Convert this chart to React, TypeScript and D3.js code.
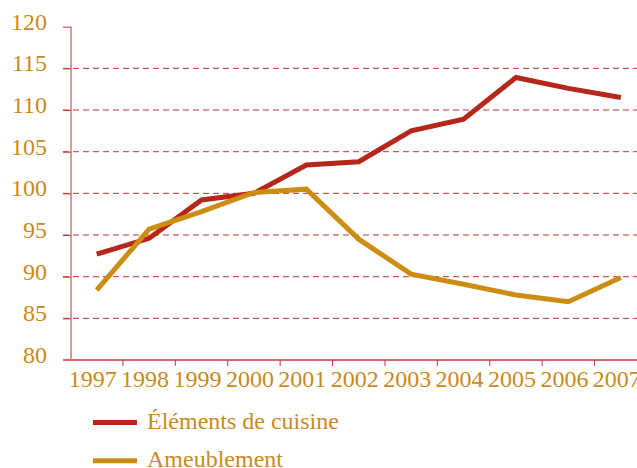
import React, { useRef, useEffect } from "react";
import * as d3 from "d3";

const years = ["1997", "1998", "1999", "2000", "2001", "2002", "2003", "2004", "2005", "2006", "2007"];
const cuisine = [92.7, 94.6, 99.2, 100.0, 103.4, 103.8, 107.5, 108.9, 113.9, 112.6, 111.5];
const ameublement = [88.4, 95.7, 97.8, 100.1, 100.5, 94.5, 90.3, 89.1, 87.8, 87.0, 89.9];
const yTicks = [80, 85, 90, 95, 100, 105, 110, 115, 120];
const seriesNames = ["Éléments de cuisine", "Ameublement"];

const RED = "#b5261b";
const GOLD = "#cd8c12";
const TEXT = "#c98a1c";
const GRID = "#c0352c";

const App = () => {
  const ref = useRef(null);
  const w = 637,
    h = 468;

  useEffect(() => {
    const svg = d3.select(ref.current);
    svg.selectAll("*").remove();
    const font = "Liberation Serif, Times New Roman, Times, DejaVu Serif, serif";

    const x = d3.scaleBand().domain(years).range([70.5, 647]).padding(0);
    const y = d3.scaleLinear().domain([80, 120]).range([360, 26.7]);

    // gridlines
    svg
      .append("g")
      .selectAll("line")
      .data(yTicks.filter((d) => d > 80 && d < 120))
      .join("line")
      .attr("x1", 63)
      .attr("x2", w)
      .attr("y1", (d) => y(d))
      .attr("y2", (d) => y(d))
      .attr("stroke", GRID)
      .attr("stroke-width", 1)
      .attr("stroke-dasharray", "6,4");

    // y axis
    const yAxis = (g) =>
      g
        .attr("transform", "translate(71,0)")
        .call(d3.axisLeft(y).tickValues(yTicks).tickSize(8).tickPadding(16))
        .call((g) => g.select(".domain").attr("stroke", GRID).attr("d", `M0,${y(120)}V${y(80)}`))
        .call((g) => g.selectAll(".tick line").attr("stroke", GRID))
        .call((g) =>
          g
            .selectAll(".tick text")
            .attr("fill", TEXT)
            .attr("font-family", font)
            .attr("font-size", 24)
            .attr("dy", "0.1em")
        );
    svg.append("g").call(yAxis);

    // x axis
    const xAxis = (g) =>
      g
        .attr("transform", `translate(0,${y(80)})`)
        .call(d3.axisBottom(x).tickSize(0).tickPadding(10))
        .call((g) => g.select(".domain").remove())
        .call((g) =>
          g
            .selectAll(".tick text")
            .attr("fill", TEXT)
            .attr("font-family", font)
            .attr("font-size", 24)
            .attr("dx", -4)
        );
    const xg = svg.append("g").call(xAxis);
    xg.append("line")
      .attr("x1", 63)
      .attr("x2", w)
      .attr("stroke", "#d46a6a")
      .attr("stroke-width", 2);
    xg.selectAll(".xtick")
      .data(years.slice(1))
      .join("line")
      .attr("class", "xtick")
      .attr("x1", (d) => x(d))
      .attr("x2", (d) => x(d))
      .attr("y1", 0)
      .attr("y2", 6)
      .attr("stroke", GRID);

    const line = d3
      .line()
      .x((d, i) => x(years[i]) + x.bandwidth() / 2)
      .y((d) => y(d));

    [
      [cuisine, RED],
      [ameublement, GOLD],
    ].forEach(([data, c]) => {
      svg
        .append("path")
        .datum(data)
        .attr("fill", "none")
        .attr("stroke", c)
        .attr("stroke-width", 5)
        .attr("stroke-linejoin", "miter")
        .attr("d", line);
    });

    // legend
    const legend = svg
      .append("g")
      .selectAll("g")
      .data(seriesNames)
      .join("g")
      .attr("transform", (d, i) => `translate(93,${422.5 + i * 38.3})`);
    legend
      .append("line")
      .attr("x1", 0)
      .attr("x2", 44)
      .attr("stroke", (d, i) => (i === 0 ? RED : GOLD))
      .attr("stroke-width", 5);
    legend
      .append("text")
      .attr("x", 54)
      .attr("y", 6)
      .attr("fill", TEXT)
      .attr("font-family", font)
      .attr("font-size", 24)
      .text((d) => d);
  }, []);

  return (
    <svg
      ref={ref}
      width={w}
      height={h}
      style={{ position: "absolute", left: 0, top: 0, background: "#fff" }}
    ></svg>
  );
};

export default App;
